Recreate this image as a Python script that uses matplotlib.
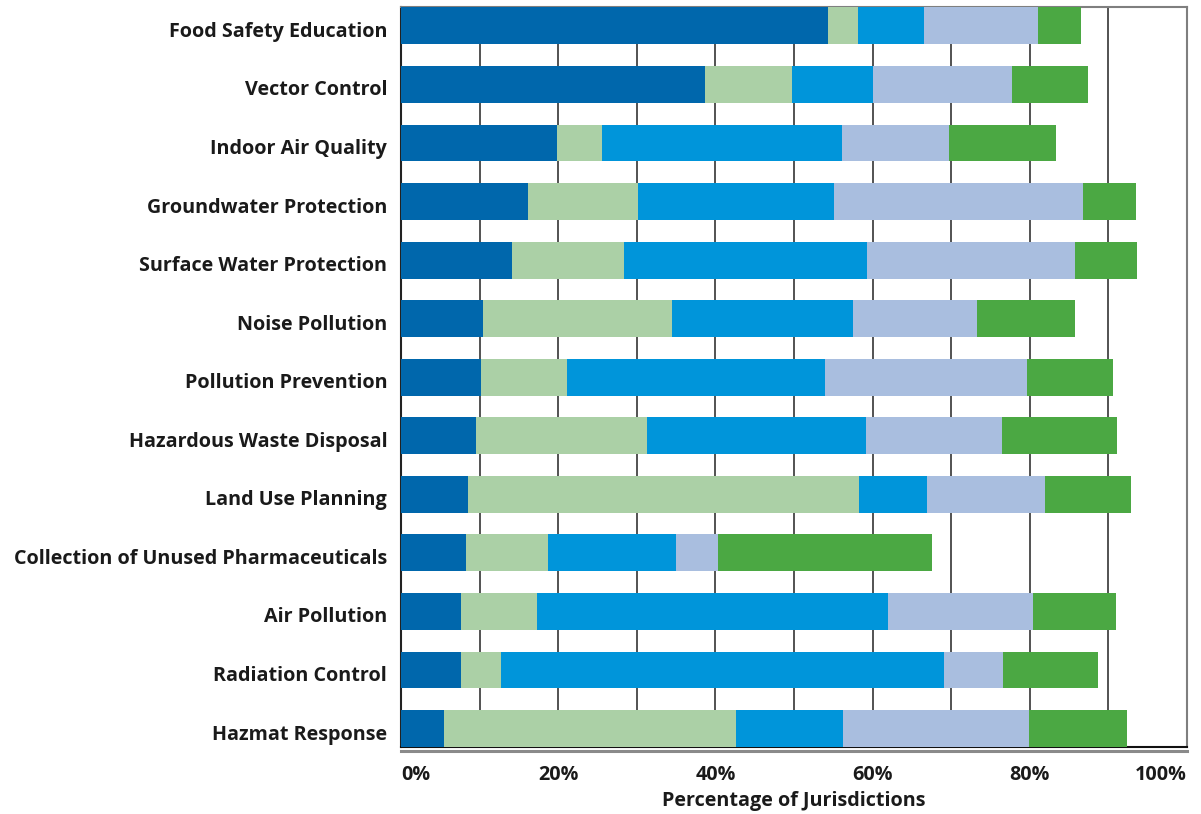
import matplotlib
matplotlib.use("Agg")
import matplotlib.pyplot as plt
from matplotlib.lines import Line2D
from matplotlib.transforms import ScaledTranslation

plt.rcParams['font.family'] = ['Open Sans', 'DejaVu Sans']

categories = [
    "Food Safety Education",
    "Vector Control",
    "Indoor Air Quality",
    "Groundwater Protection",
    "Surface Water Protection",
    "Noise Pollution",
    "Pollution Prevention",
    "Hazardous Waste Disposal",
    "Land Use Planning",
    "Collection of Unused Pharmaceuticals",
    "Air Pollution",
    "Radiation Control",
    "Hazmat Response",
]

# Percentage of jurisdictions in each of the five response groups
series_1 = [54.3, 38.7, 19.9, 16.2, 14.1, 10.4, 10.2, 9.5, 8.5, 8.3, 7.6, 7.6, 5.5]
series_2 = [3.9, 11.1, 5.7, 14.0, 14.3, 24.1, 10.9, 21.8, 49.8, 10.4, 9.7, 5.1, 37.1]
series_3 = [8.4, 10.3, 30.5, 24.9, 30.9, 23.0, 32.9, 27.8, 8.6, 16.3, 44.7, 56.4, 13.7]
series_4 = [14.5, 17.7, 13.6, 31.7, 26.4, 15.8, 25.7, 17.4, 15.1, 5.3, 18.4, 7.5, 23.6]
series_5 = [5.4, 9.6, 13.7, 6.7, 8.0, 12.5, 10.9, 14.6, 10.9, 27.2, 10.6, 12.1, 12.5]

tick_values = [0, 20, 40, 60, 80, 100]
tick_labels = ["0%", "20%", "40%", "60%", "80%", "100%"]

colors = ["#0067AC", "#ABD0A6", "#0095DA", "#A9BEDF", "#4BA843"]

FS = 14.2

fig = plt.figure(figsize=(12.01, 8.14), dpi=100)
ax = fig.add_axes([0.3339, 0.0823, 0.9883 - 0.3339, 0.9908 - 0.0823])

ypos = list(range(len(categories)))
left = [0.0] * len(categories)
for vals, col in zip([series_1, series_2, series_3, series_4, series_5], colors):
    ax.barh(ypos, vals, left=left, height=0.63, color=col, edgecolor='none', zorder=3)
    left = [l + v for l, v in zip(left, vals)]

ax.set_xlim(0, 100)
ax.set_ylim(len(categories) - 1 + 0.315, -0.315)

# vertical gridlines every 10%
for g in range(10, 100, 10):
    ax.axvline(g, color='#444444', linewidth=1.3, zorder=1)

ax.set_yticks(ypos)
ax.set_yticklabels(categories, fontsize=FS, fontweight='bold', color='#1a1a1a')
ax.tick_params(axis='y', length=0, pad=10)
shift_down = ScaledTranslation(0, -0.035, fig.dpi_scale_trans)
for t in ax.get_yticklabels():
    t.set_transform(t.get_transform() + shift_down)

ax.set_xticks(tick_values)
ax.set_xticklabels(tick_labels, fontsize=FS, fontweight='bold', color='#1a1a1a')
ax.tick_params(axis='x', length=0, pad=13)
xt = ax.get_xticklabels()
xt[0].set_horizontalalignment('left')
xt[-1].set_horizontalalignment('right')

ax.set_xlabel("Percentage of Jurisdictions", fontsize=FS, fontweight='bold',
              color='#1a1a1a', labelpad=4)

for side in ['top', 'right']:
    ax.spines[side].set_color('#7f7f7f')
    ax.spines[side].set_linewidth(1.5)
ax.spines['left'].set_color('#222222')
ax.spines['left'].set_linewidth(1.5)
ax.spines['bottom'].set_color('#111111')
ax.spines['bottom'].set_linewidth(1.5)

# second, lighter rule just beneath the x axis
ax.add_line(Line2D([0, 1], [-0.006, -0.006], transform=ax.transAxes,
                   color='#8a8a8a', linewidth=2.2, clip_on=False, zorder=4))

fig.savefig("out.png", dpi=100)
